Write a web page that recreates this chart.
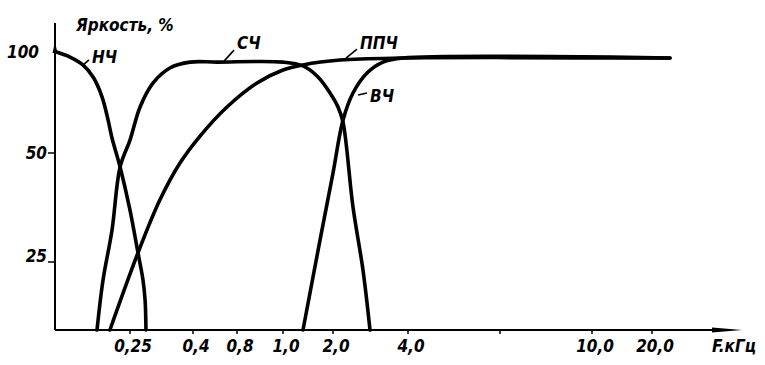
<!DOCTYPE html>
<html>
<head>
<meta charset="utf-8">
<script src="https://cdn.jsdelivr.net/npm/d3@7"></script>
<style>
  body { margin: 0; background: #fff; }
  text {
    font-family: "DejaVu Sans Condensed", "DejaVu Sans", sans-serif;
    font-stretch: condensed;
    font-weight: bold;
    font-style: italic;
    fill: #000;
  }
</style>
</head>
<body>
<script>
// chart data
const freqTicks = [0.25, 0.4, 0.8, 1.0, 2.0, 4.0, 10.0, 20.0];
const freqTickLabels = ["0,25", "0,4", "0,8", "1,0", "2,0", "4,0", "10,0", "20,0"];
const freqMinorTicks = [7];
const pctTicks = [25, 50, 100];
const pctTickLabels = ["25", "50", "100"];
// ----------
// each band: [frequency kHz, brightness %]
const bandLow = [
  [0.005, 100], [0.05, 97.5], [0.093, 93.6], [0.127, 87.6], [0.157, 77.7],
  [0.177, 66.3], [0.19, 57.4], [0.217, 46.8], [0.25, 36.9], [0.269, 27.1],
  [0.281, 18.3], [0.286, 10.8], [0.288, 0],
];
const bandMid = [
  [0.14, 0], [0.16, 18.3], [0.19, 32.3], [0.217, 46.8], [0.25, 56.4],
  [0.274, 72.8], [0.305, 84.7], [0.345, 92.1], [0.393, 95], [0.618, 95],
  [1.0, 95], [1.4, 93.1], [1.7, 87.6], [1.94, 79.7], [2.133, 72.8],
  [2.267, 65.3], [2.533, 37.6], [2.8, 22], [2.987, 0],
];
const bandWide = [
  [0.183, 0], [0.269, 27.1], [0.321, 39.2], [0.369, 47.7], [0.464, 58.4],
  [0.709, 72.8], [0.887, 84.7], [1.0, 91.1], [1.4, 93.6], [2.187, 96],
  [3.787, 97], [24, 97],
];
const bandHigh = [
  [1.4, 0], [1.74, 30], [2.0, 45.4], [2.267, 66.3], [2.533, 79.7],
  [2.907, 89.6], [3.333, 95], [3.867, 97], [24, 97],
];
const bandNames = ["НЧ", "СЧ", "ППЧ", "ВЧ"];
// point on each curve where its name is hooked
const bandLabelAt = [[0.09, 93.1], [0.682, 95.5], [2.347, 97], [2.667, 78.7]];
// ----------

const w = 765;
const h = 365;

const svg = d3
  .select("body")
  .append("svg")
  .attr("width", w)
  .attr("height", h);

// scales: the drawing's frequency axis is hand spaced, so piecewise
const x = d3
  .scaleLinear()
  .domain([0, ...freqTicks, 40])
  .range([55, 130, 193, 237, 283, 333, 408, 592, 652, 742]);
const y = d3
  .scaleLinear()
  .domain([0, ...pctTicks])
  .range([330, 262, 153, 52]);
// ----------

// axes
const axisCol = "#000";
svg
  .append("line")
  .attr("x1", x(0))
  .attr("y1", y(0))
  .attr("x2", x(0))
  .attr("y2", 23)
  .attr("stroke", axisCol)
  .attr("stroke-width", 2);
svg
  .append("path")
  .attr("d", `M${x(0) - 2.5},${y(100) + 1} L${x(0)},${y(100) - 10} L${x(0) + 2.5},${y(100) + 1} Z`)
  .attr("fill", axisCol);

svg
  .append("line")
  .attr("x1", x(0))
  .attr("y1", y(0))
  .attr("x2", 715)
  .attr("y2", y(0))
  .attr("stroke", axisCol)
  .attr("stroke-width", 2);
svg
  .append("path")
  .attr("d", `M712,${y(0) - 2.5} L${x(40)},${y(0)} L712,${y(0) + 2.5} Z`)
  .attr("fill", axisCol);

// x ticks + labels
const xTicks = svg.append("g");
xTicks
  .selectAll("line")
  .data(freqTicks.concat(freqMinorTicks))
  .enter()
  .append("line")
  .attr("x1", (d) => x(d))
  .attr("x2", (d) => x(d))
  .attr("y1", y(0))
  .attr("y2", y(0) + 4)
  .attr("stroke", axisCol)
  .attr("stroke-width", 1.5);
xTicks
  .selectAll("text")
  .data(freqTicks)
  .enter()
  .append("text")
  .text((d, i) => freqTickLabels[i])
  .attr("x", (d) => x(d) + 3)
  .attr("y", 352)
  .attr("text-anchor", "middle")
  .attr("font-size", 17);

svg
  .append("text")
  .text("F.кГц")
  .attr("x", 712)
  .attr("y", 352)
  .attr("font-size", 17);

// y ticks + labels
const yTicks = svg.append("g");
yTicks
  .selectAll("line")
  .data(pctTicks.filter((d) => d < 100))
  .enter()
  .append("line")
  .attr("x1", x(0) - 7)
  .attr("x2", x(0))
  .attr("y1", (d) => y(d))
  .attr("y2", (d) => y(d))
  .attr("stroke", axisCol)
  .attr("stroke-width", 1.5);
yTicks
  .selectAll("text")
  .data(pctTicks)
  .enter()
  .append("text")
  .text((d, i) => pctTickLabels[i])
  .attr("x", (d) => (d === 100 ? x(0) - 16 : x(0) - 8))
  .attr("y", (d) => y(d) + (d === 25 ? 0 : 6))
  .attr("text-anchor", "end")
  .attr("font-size", 17);

svg
  .append("text")
  .text("Яркость, %")
  .attr("x", 76)
  .attr("y", 31)
  .attr("font-size", 17);
// ----------

// band curves
const line = d3
  .line()
  .x((d) => x(d[0]))
  .y((d) => y(d[1]))
  .curve(d3.curveCatmullRom.alpha(0.5));

svg
  .append("g")
  .selectAll("path")
  .data([bandLow, bandMid, bandWide, bandHigh])
  .enter()
  .append("path")
  .attr("d", line)
  .attr("fill", "none")
  .attr("stroke", "#000")
  .attr("stroke-width", 3.6)
  .attr("stroke-linejoin", "round")
  .attr("stroke-linecap", "round");
// ----------

// curve names with leader strokes
const leadOff = [[7, -6], [10, -11], [11, -9], [9, -2]];
const textOff = [[10, -3], [13, -12], [14, -9], [12, 7]];

const names = svg.append("g");
names
  .selectAll("line")
  .data(bandLabelAt)
  .enter()
  .append("line")
  .attr("x1", (d) => x(d[0]))
  .attr("y1", (d) => y(d[1]))
  .attr("x2", (d, i) => x(d[0]) + leadOff[i][0])
  .attr("y2", (d, i) => y(d[1]) + leadOff[i][1])
  .attr("stroke", "#000")
  .attr("stroke-width", 1.6);
names
  .selectAll("text")
  .data(bandLabelAt)
  .enter()
  .append("text")
  .text((d, i) => bandNames[i])
  .attr("x", (d, i) => x(d[0]) + textOff[i][0])
  .attr("y", (d, i) => y(d[1]) + textOff[i][1])
  .attr("font-size", 17);
</script>
</body>
</html>
